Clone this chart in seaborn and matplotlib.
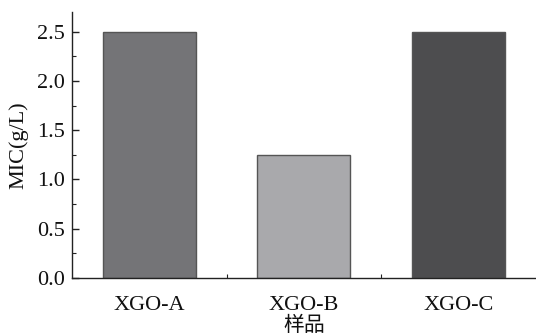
import matplotlib
matplotlib.use("Agg")
import matplotlib.pyplot as plt
import seaborn as sns
import pandas as pd
from matplotlib.ticker import MultipleLocator, FixedLocator

# chart data
samples = ["XGO-A", "XGO-B", "XGO-C"]
mic_values = [2.5, 1.25, 2.5]
bar_colors = ["#737477", "#a8a9ac", "#4d4d4f"]

df = pd.DataFrame({"样品": samples, "MIC(g/L)": mic_values})

sns.set_style("ticks")
plt.rcParams["font.family"] = ["Liberation Serif", "Noto Sans CJK SC"]

fig = plt.figure(figsize=(5.36, 3.36), dpi=100)
ax = fig.add_axes([0.134, 0.173, 0.866, 0.791])

sns.barplot(data=df, x="样品", y="MIC(g/L)", hue="样品", palette=bar_colors,
            width=0.6, edgecolor="#555555", linewidth=1.0, legend=False, ax=ax)

ax.set_xlim(-0.5, 2.5)
ax.set_ylim(0, 2.7)
ax.yaxis.set_major_locator(MultipleLocator(0.5))
ax.yaxis.set_minor_locator(MultipleLocator(0.25))
ax.xaxis.set_minor_locator(FixedLocator([0.5, 1.5]))
ax.yaxis.set_major_formatter(matplotlib.ticker.FormatStrFormatter("%.1f"))

for s in ["top", "right"]:
    ax.spines[s].set_visible(False)
for s in ["left", "bottom"]:
    ax.spines[s].set_color("#222222")
    ax.spines[s].set_linewidth(1.0)

ax.tick_params(axis="both", which="major", direction="in", length=5, width=1,
               colors="#222222", labelsize=16, labelcolor="#111111")
ax.tick_params(axis="both", which="minor", direction="in", length=3, width=0.8,
               colors="#222222")
ax.tick_params(axis="x", which="major", pad=13)
ax.tick_params(axis="y", which="major", pad=5)

ax.set_xlabel("样品", fontsize=15, labelpad=1, color="#111111")
ax.set_ylabel("MIC(g/L)", fontsize=16, labelpad=6, color="#111111")

fig.savefig("out.png", dpi=100)
